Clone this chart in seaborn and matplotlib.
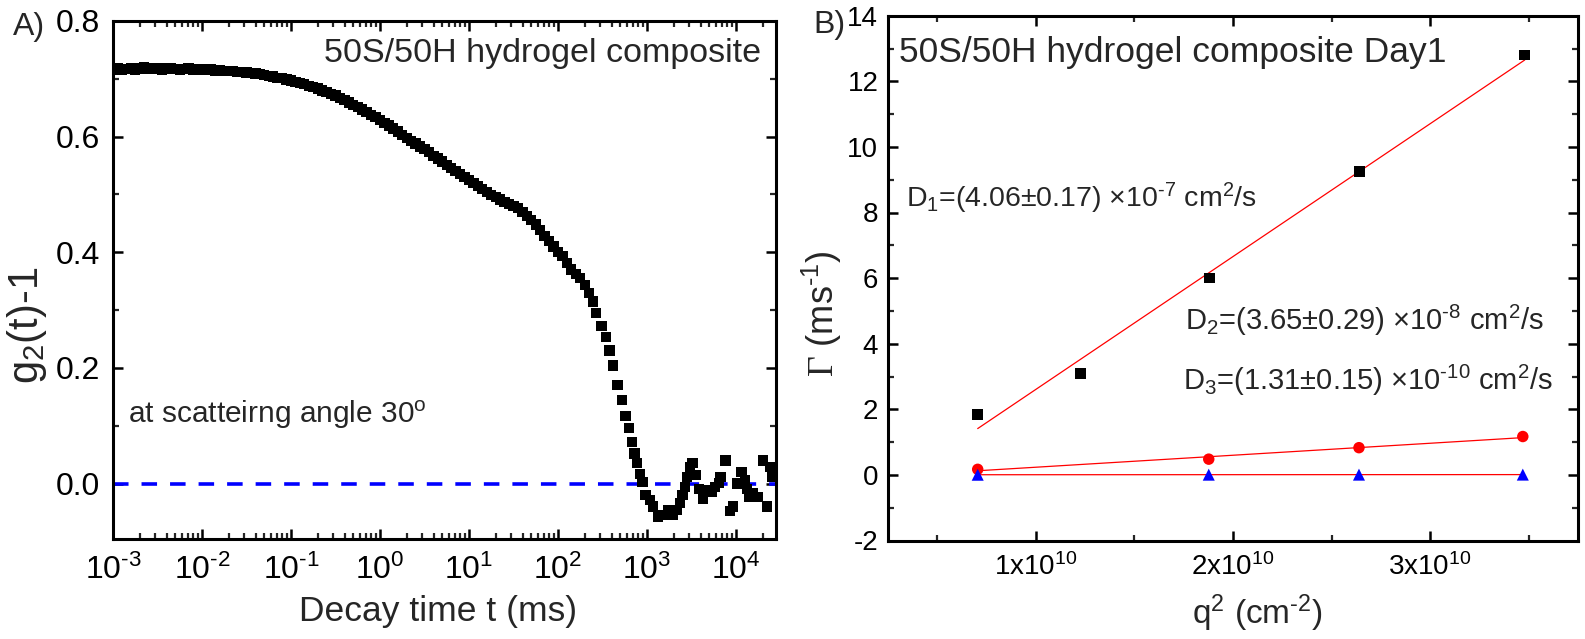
import numpy as np
import pandas as pd
import matplotlib
matplotlib.use("Agg")
import matplotlib.pyplot as plt
import seaborn as sns
from matplotlib.ticker import LogLocator, NullFormatter, MultipleLocator

sns.set_style("ticks")
plt.rcParams["font.family"] = ["Liberation Sans", "DejaVu Sans"]
plt.rcParams["mathtext.fontset"] = "custom"
plt.rcParams["mathtext.rm"] = "Liberation Sans"
plt.rcParams["mathtext.it"] = "Liberation Sans:italic"
plt.rcParams["mathtext.sf"] = "Liberation Serif"
plt.rcParams["mathtext.default"] = "regular"

# ---------------- Panel A data: g2(t)-1 vs decay time ----------------
decay_log10_t = [
    -3.00, -2.95, -2.90, -2.85, -2.80, -2.75, -2.70, -2.65, -2.60, -2.55,
    -2.50, -2.45, -2.40, -2.35, -2.30, -2.25, -2.20, -2.15, -2.10, -2.05,
    -2.00, -1.95, -1.90, -1.85, -1.80, -1.75, -1.70, -1.65, -1.60, -1.55,
    -1.50, -1.45, -1.40, -1.35, -1.30, -1.25, -1.20, -1.15, -1.10, -1.05,
    -1.00, -0.95, -0.90, -0.85, -0.80, -0.75, -0.70, -0.65, -0.60, -0.55,
    -0.50, -0.45, -0.40, -0.35, -0.30, -0.25, -0.20, -0.15, -0.10, -0.05,
    0.00, 0.05, 0.10, 0.15, 0.20, 0.25, 0.30, 0.35, 0.40, 0.45,
    0.50, 0.55, 0.60, 0.65, 0.70, 0.75, 0.80, 0.85, 0.90, 0.95,
    1.00, 1.05, 1.10, 1.15, 1.20, 1.25, 1.30, 1.35, 1.40, 1.45,
    1.50, 1.55, 1.60, 1.65, 1.70, 1.75, 1.80, 1.85, 1.90, 1.95,
    2.00, 2.05, 2.10, 2.15, 2.20, 2.25, 2.30, 2.35,
    2.39, 2.43, 2.49, 2.54, 2.58, 2.62, 2.67, 2.72, 2.76, 2.80,
    2.83, 2.86, 2.89, 2.92, 2.95, 2.985, 3.034, 3.071, 3.127, 3.183,
    3.240, 3.296, 3.333, 3.371, 3.401, 3.427, 3.453, 3.483, 3.513, 3.551,
    3.588, 3.626, 3.671, 3.727, 3.764, 3.809, 3.828, 3.884, 3.936, 3.970,
    4.015, 4.064, 4.101, 4.127, 4.150, 4.195, 4.251, 4.307, 4.345, 4.382,
    4.412,
]
g2_minus_1 = [
    0.716, 0.718, 0.715, 0.717, 0.719, 0.716, 0.718, 0.720, 0.717, 0.719,
    0.718, 0.716, 0.718, 0.719, 0.717, 0.715, 0.717, 0.718, 0.716, 0.715,
    0.716, 0.715, 0.716, 0.714, 0.715, 0.714, 0.713, 0.714, 0.712, 0.712,
    0.711, 0.710, 0.709, 0.708, 0.707, 0.705, 0.704, 0.702, 0.701, 0.699,
    0.697, 0.695, 0.693, 0.691, 0.688, 0.686, 0.683, 0.680, 0.677, 0.674,
    0.671, 0.667, 0.663, 0.659, 0.655, 0.651, 0.647, 0.643, 0.638, 0.634,
    0.629, 0.624, 0.619, 0.614, 0.609, 0.603, 0.598, 0.593, 0.588, 0.583,
    0.578, 0.573, 0.567, 0.562, 0.557, 0.551, 0.546, 0.541, 0.535, 0.530,
    0.525, 0.520, 0.514, 0.509, 0.504, 0.499, 0.495, 0.491, 0.487, 0.484,
    0.480, 0.476, 0.470, 0.463, 0.456, 0.448, 0.438, 0.428, 0.419, 0.410,
    0.400, 0.393, 0.382, 0.370, 0.362, 0.355, 0.343, 0.330,
    0.315, 0.295, 0.273, 0.254, 0.230, 0.204, 0.170, 0.144, 0.117, 0.096,
    0.072, 0.052, 0.035, 0.017, 0.002, -0.020, -0.029, -0.040, -0.057, -0.055,
    -0.046, -0.055, -0.046, -0.034, -0.020, -0.006, 0.011, 0.029, 0.035, 0.015,
    -0.009, -0.027, -0.011, -0.014, -0.006, 0.001, 0.011, 0.040, -0.047, -0.040,
    0.000, 0.020, 0.005, -0.009, -0.023, -0.017, -0.023, 0.040, -0.040, 0.029,
    0.011,
]
a_xtick_values = [1e-3, 1e-2, 1e-1, 1e0, 1e1, 1e2, 1e3, 1e4]
a_xtick_labels = ["10$^{\\text{-}3}$", "10$^{\\text{-}2}$", "10$^{\\text{-}1}$", "10$^{0}$",
                  "10$^{1}$", "10$^{2}$", "10$^{3}$", "10$^{4}$"]
a_ytick_values = [0.0, 0.2, 0.4, 0.6, 0.8]
a_ytick_labels = ["0.0", "0.2", "0.4", "0.6", "0.8"]

# ---------------- Panel B data: Gamma vs q^2 ----------------
q2_fast = [0.705e10, 1.225e10, 1.88e10, 2.64e10, 3.48e10]
gamma_fast = [1.85, 3.10, 6.00, 9.25, 12.80]
q2_mid = [0.705e10, 1.877e10, 2.639e10, 3.47e10]
gamma_mid = [0.17, 0.48, 0.83, 1.17]
q2_slow = [0.705e10, 1.877e10, 2.639e10, 3.47e10]
gamma_slow = [0.005, 0.007, 0.008, 0.009]
b_xtick_values = [1e10, 2e10, 3e10]
b_xtick_labels = ["1x10$^{10}$", "2x10$^{10}$", "3x10$^{10}$"]
b_ytick_values = [-2, 0, 2, 4, 6, 8, 10, 12, 14]
b_ytick_labels = ["-2", "0", "2", "4", "6", "8", "10", "12", "14"]

W, H = 1585, 639
fig = plt.figure(figsize=(W / 100, H / 100), dpi=100)
axA = fig.add_axes([113 / W, 1 - 539 / H, (776 - 113) / W, (539 - 21) / H])
axB = fig.add_axes([888 / W, 1 - 540.5 / H, (1578 - 888) / W, (540.5 - 15.7) / H])

# ---------- Panel A ----------
dfA = pd.DataFrame({"t": 10 ** np.array(decay_log10_t), "g": g2_minus_1})
axA.set_xscale("log")
axA.axhline(0, color="#0000ff", lw=2.6, dashes=(4.3, 3.6), zorder=2)
sns.scatterplot(data=dfA, x="t", y="g", marker="s", s=55, color="black",
                edgecolor="none", linewidth=0, ax=axA, zorder=3, legend=False)
axA.set_xlim(1e-3, 10 ** 4.45)
axA.set_ylim(-0.096, 0.8)
axA.set_xticks(a_xtick_values, labels=a_xtick_labels)
axA.xaxis.set_minor_locator(LogLocator(base=10, subs=np.arange(2, 10), numticks=30))
axA.xaxis.set_minor_formatter(NullFormatter())
axA.set_yticks(a_ytick_values, labels=a_ytick_labels)
axA.yaxis.set_minor_locator(MultipleLocator(0.1))
axA.set_xlabel("Decay time t (ms)", fontsize=25.5)
axA.set_ylabel("g$_2$(t)-1", fontsize=30)
axA.xaxis.set_label_coords(0.49, -0.108)
axA.yaxis.set_label_coords(-0.097, 0.413)
axA.text(0.977, 0.921, "50S/50H hydrogel composite", transform=axA.transAxes,
         ha="right", va="baseline", fontsize=24.5)
axA.text(0.0226, 0.224, "at scatteirng angle 30$^o$", transform=axA.transAxes,
         ha="left", va="baseline", fontsize=21.5)

# ---------- Panel B ----------
for qx, gy in [(q2_fast, gamma_fast), (q2_mid, gamma_mid), (q2_slow, gamma_slow)]:
    sns.regplot(x=np.array(qx), y=np.array(gy), ci=None, scatter=False, truncate=True,
                color="#ff0000", line_kws={"lw": 0.9, "zorder": 2}, ax=axB)
sns.scatterplot(x=q2_fast, y=gamma_fast, marker="s", s=60, color="black",
                edgecolor="none", linewidth=0, ax=axB, zorder=3, legend=False)
sns.scatterplot(x=q2_mid, y=gamma_mid, marker="o", s=68, color="#ff0000",
                edgecolor="none", linewidth=0, ax=axB, zorder=3, legend=False)
sns.scatterplot(x=q2_slow, y=gamma_slow, marker="^", s=75, color="#0000ff",
                edgecolor="none", linewidth=0, ax=axB, zorder=4, legend=False)
axB.set_xlim(0.25e10, 3.75e10)
axB.set_ylim(-2, 14)
axB.set_xticks(b_xtick_values, labels=b_xtick_labels)
axB.set_xticks([0.5e10, 1.5e10, 2.5e10, 3.5e10], minor=True)
axB.set_yticks(b_ytick_values, labels=b_ytick_labels)
axB.yaxis.set_minor_locator(MultipleLocator(1))
axB.set_xlabel("q$^2$ (cm$^{\\text{-}2}$)", fontsize=24)
axB.set_ylabel("$\\mathsf{\\Gamma}$ (ms$^{\\text{-}1}$)", fontsize=26)
axB.xaxis.set_label_coords(0.536, -0.10)
axB.yaxis.set_label_coords(-0.064, 0.433)
axB.text(0.016, 0.911, "50S/50H hydrogel composite Day1", transform=axB.transAxes,
         ha="left", va="baseline", fontsize=25.5)
axB.text(0.026, 0.635, "D$_1$=(4.06±0.17) ×10$^{\\text{-}7}$ cm$^2$/s", transform=axB.transAxes,
         ha="left", va="baseline", fontsize=20.5)
axB.text(0.430, 0.401, "D$_2$=(3.65±0.29) ×10$^{\\text{-}8}$ cm$^2$/s", transform=axB.transAxes,
         ha="left", va="baseline", fontsize=21)
axB.text(0.428, 0.287, "D$_3$=(1.31±0.15) ×10$^{\\text{-}10}$ cm$^2$/s", transform=axB.transAxes,
         ha="left", va="baseline", fontsize=21)

# ---------- common styling ----------
for ax, tfs, padx, pady in [(axA, 23, 11, 9), (axB, 20, 9, 7)]:
    for s in ax.spines.values():
        s.set_linewidth(2.2)
        s.set_color("black")
    ax.tick_params(axis="both", which="major", direction="in", length=7, width=1.8,
                   labelsize=tfs, colors="black")
    ax.tick_params(axis="both", which="minor", direction="in", length=4.5, width=1.6)
    ax.tick_params(axis="x", which="major", pad=padx)
    ax.tick_params(axis="y", which="major", pad=pady)
    ax.tick_params(axis="both", which="both", top=True, right=True)
    for tl in ax.xaxis.get_major_ticks() + ax.xaxis.get_minor_ticks():
        tl.tick2line.set_color("0.75")
        tl.tick2line.set_linewidth(0.8)
    for tl in ax.yaxis.get_major_ticks() + ax.yaxis.get_minor_ticks():
        tl.tick2line.set_color("0.75")
        tl.tick2line.set_linewidth(0.8)

fig.text(13 / W, 1 - 35 / H, "A)", fontsize=23, ha="left", va="baseline")
fig.text(813 / W, 1 - 33 / H, "B)", fontsize=23, ha="left", va="baseline")

fig.savefig("out.png", dpi=100)
